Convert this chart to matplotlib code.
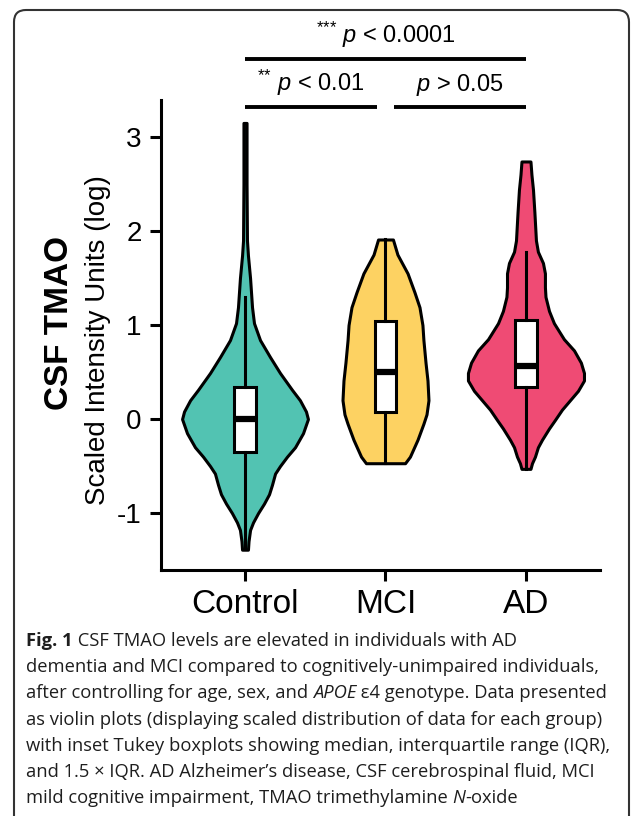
import matplotlib
matplotlib.use("Agg")
import matplotlib.pyplot as plt
from matplotlib.patches import FancyBboxPatch
from matplotlib.transforms import IdentityTransform
import numpy as np

plt.rcParams['font.family'] = ['Liberation Sans', 'DejaVu Sans']
plt.rcParams['axes.unicode_minus'] = False
plt.rcParams['mathtext.fontset'] = 'custom'
plt.rcParams['mathtext.rm'] = 'Liberation Sans'
plt.rcParams['mathtext.it'] = 'Liberation Sans:italic'
plt.rcParams['mathtext.bf'] = 'Liberation Sans:bold'

# ---------------- data ----------------
groups = ["Control", "MCI", "AD"]
colors = ["#52C3B2", "#FDD262", "#EF4B74"]

# violin outline: values and half-widths (in x-category units)
control_y = [3.15, 2.5, 1.9, 1.74, 1.5, 1.19, 1.02, 0.84, 0.66, 0.49, 0.31, 0.20, 0.08, 0.0,
             -0.15, -0.30, -0.40, -0.50, -0.58, -0.70, -0.80, -0.90, -1.0, -1.1, -1.18, -1.30, -1.39]
control_w = [0.011, 0.011, 0.014, 0.021, 0.036, 0.050, 0.064, 0.107, 0.178, 0.249, 0.335, 0.391, 0.434, 0.448,
             0.413, 0.356, 0.299, 0.249, 0.214, 0.192, 0.171, 0.135, 0.093, 0.057, 0.036, 0.025, 0.021]

mci_y = [1.91, 1.75, 1.55, 1.35, 1.19, 1.0, 0.84, 0.6, 0.41, 0.2, 0.05, -0.05, -0.22, -0.40, -0.47]
mci_w = [0.053, 0.085, 0.157, 0.206, 0.242, 0.263, 0.270, 0.285, 0.299, 0.306, 0.292, 0.270, 0.228, 0.174, 0.139]

ad_y = [2.74, 2.6, 2.44, 2.2, 1.90, 1.78, 1.66, 1.55, 1.40, 1.30, 1.15, 1.02, 0.85, 0.73, 0.60, 0.49, 0.41,
        0.30, 0.20, 0.10, -0.01, -0.10, -0.22, -0.30, -0.40, -0.47, -0.53]
ad_w = [0.032, 0.039, 0.050, 0.060, 0.071, 0.085, 0.121, 0.135, 0.135, 0.139, 0.164, 0.199, 0.270, 0.342,
        0.391, 0.413, 0.413, 0.370, 0.313, 0.256, 0.206, 0.164, 0.114, 0.085, 0.064, 0.043, 0.032]

# Tukey box statistics
medians = [0.0, 0.50, 0.56]
q1s = [-0.35, 0.07, 0.34]
q3s = [0.34, 1.04, 1.05]
whis_lo = [-1.36, -0.47, -0.53]
whis_hi = [1.30, 1.91, 1.78]

# significance brackets: (x start, x end, level, label)
brackets = [
    (1.0, 1.94, 3.32, r"$^{{*}{*}}\ \mathit{p}$ < 0.01"),
    (2.06, 3.0, 3.32, r"$\mathit{p}$ > 0.05"),
    (1.0, 3.0, 3.83, r"$^{{*}{*}{*}}\ \mathit{p}$ < 0.0001"),
]

yticks = [-1, 0, 1, 2, 3]

caption_lines = [
    [("Fig. 1", "bold", "normal"), (" CSF TMAO levels are elevated in individuals with AD", "normal", "normal")],
    [("dementia and MCI compared to cognitively-unimpaired individuals,", "normal", "normal")],
    [("after controlling for age, sex, and ", "normal", "normal"), ("APOE", "normal", "italic"),
     (" \u03b54 genotype. Data presented", "normal", "normal")],
    [("as violin plots (displaying scaled distribution of data for each group)", "normal", "normal")],
    [("with inset Tukey boxplots showing median, interquartile range (IQR),", "normal", "normal")],
    [("and 1.5 \u00d7 IQR. AD Alzheimer\u2019s disease, CSF cerebrospinal fluid, MCI", "normal", "normal")],
    [("mild cognitive impairment, TMAO trimethylamine ", "normal", "normal"), ("N", "normal", "italic"),
     ("-oxide", "normal", "normal")],
]

# ---------------- figure ----------------
W, H = 633, 816
fig = plt.figure(figsize=(W / 100, H / 100), dpi=100)

def px(x, y):
    return x / W, 1 - y / H

ax_l, ax_r, ax_t, ax_b = 161, 600, 100, 570
ax = fig.add_axes([ax_l / W, 1 - ax_b / H, (ax_r - ax_l) / W, (ax_b - ax_t) / H])

profiles = [(control_y, control_w), (mci_y, mci_w), (ad_y, ad_w)]
positions = [1, 2, 3]
for pos, (yy, ww), c in zip(positions, profiles, colors):
    yy = np.array(yy)
    ww = np.array(ww)
    ax.fill_betweenx(yy, pos - ww, pos + ww, facecolor=c, edgecolor="black", linewidth=2.2, zorder=2)

stats = []
for i in range(3):
    stats.append(dict(med=medians[i], q1=q1s[i], q3=q3s[i], whislo=whis_lo[i], whishi=whis_hi[i], fliers=[]))
ax.bxp(stats, positions=positions, widths=0.15, showcaps=False, showfliers=False, patch_artist=True,
       boxprops=dict(facecolor="white", edgecolor="black", linewidth=2.2),
       medianprops=dict(color="black", linewidth=4.5),
       whiskerprops=dict(color="black", linewidth=2.2), zorder=3)

ax.set_xlim(0.402, 3.527)
ax.set_ylim(-1.606, 3.394)
ax.set_xticks(positions)
ax.set_xticklabels(groups, fontsize=24)
ax.set_yticks(yticks)
ax.set_yticklabels([str(t) for t in yticks], fontsize=20)
for s in ["top", "right"]:
    ax.spines[s].set_visible(False)
for s in ["left", "bottom"]:
    ax.spines[s].set_linewidth(2.2)
ax.tick_params(axis="both", length=8, width=2.2, color="black")
ax.tick_params(axis="x", pad=6)
ax.tick_params(axis="y", pad=6)

for x1, x2, lev, lab in brackets:
    ax.plot([x1, x2], [lev, lev], color="black", linewidth=2.8, clip_on=False, solid_capstyle="butt")
    ax.text((x1 + x2) / 2, lev + 0.10, lab, ha="center", va="bottom", fontsize=17, clip_on=False)

# y labels
fig.text(*px(60, 323), "CSF TMAO", rotation=90, ha="center", va="center", fontsize=24, fontweight="bold")
fig.text(*px(98, 340), "Scaled Intensity Units (log)", rotation=90, ha="center", va="center", fontsize=20)

# caption
cap_font = ["Open Sans", "DejaVu Sans"]
cap_size = 13.2
y0 = 641
dy = 26.2
for i, line in enumerate(caption_lines):
    prev = None
    for txt, wt, st in line:
        if prev is None:
            prev = fig.text(*px(26, y0 + i * dy), txt, ha="left", va="center", fontsize=cap_size,
                            family=cap_font, fontweight=wt, fontstyle=st, color="#1e1e1e")
        else:
            prev = ax.annotate(txt, xy=(1, 0), xycoords=prev, ha="left", va="bottom", fontsize=cap_size,
                               family=cap_font, fontweight=wt, fontstyle=st, color="#1e1e1e",
                               annotation_clip=False)

# rounded frame
frame = FancyBboxPatch((14, -40), 615, 806 + 40, boxstyle="round,pad=0,rounding_size=12",
                       transform=IdentityTransform(), facecolor="none", edgecolor="#333333", linewidth=1.5)
fig.patches.append(frame)

fig.savefig("out.png", dpi=100)
